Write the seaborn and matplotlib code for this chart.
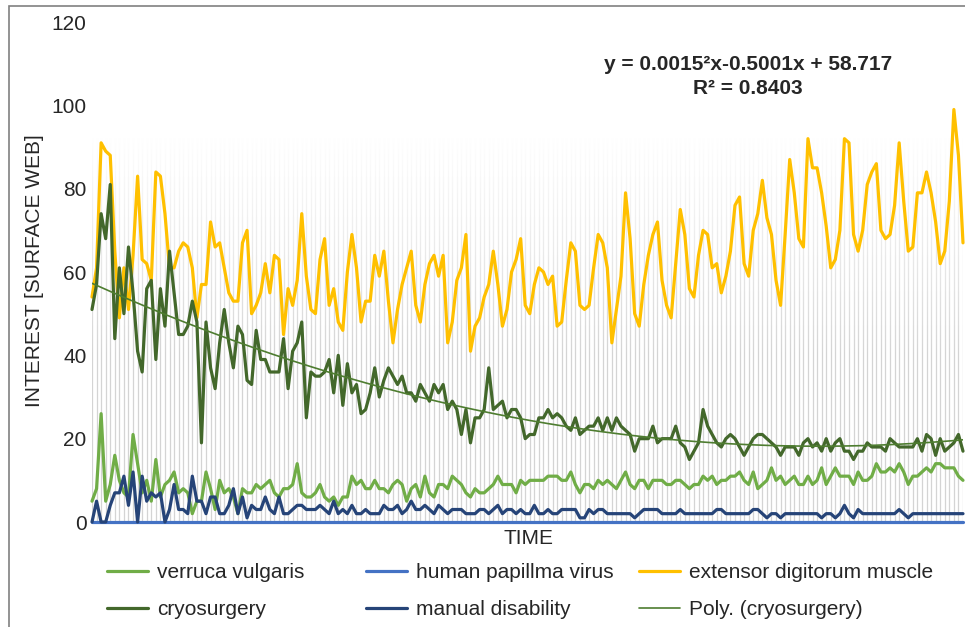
import numpy as np
import pandas as pd
import seaborn as sns
import matplotlib.pyplot as plt
from matplotlib.patches import Rectangle

# weekly search interest (192 points)
extensor = [
    54, 61, 91, 89, 88, 65, 49, 61, 51, 64, 83, 63, 62, 58, 84, 83, 74, 61, 61, 65,
    67, 66, 61, 49, 57, 57, 72, 66, 67, 61, 55, 53, 53, 67, 70, 50, 52, 55, 62, 55,
    64, 63, 45, 56, 52, 58, 74, 59, 51, 50, 63, 68, 52, 56, 48, 46, 60, 69, 61, 48,
    53, 53, 64, 59, 65, 53, 43, 51, 57, 61, 65, 52, 48, 57, 62, 64, 59, 64, 43, 48,
    58, 61, 69, 41, 47, 49, 54, 57, 65, 57, 47, 51, 60, 63, 68, 52, 50, 57, 61, 60,
    57, 59, 47, 48, 58, 67, 65, 52, 51, 52, 61, 69, 67, 61, 43, 51, 59, 79, 68, 50,
    47, 57, 64, 69, 72, 58, 52, 49, 62, 75, 69, 56, 54, 64, 70, 69, 61, 62, 55, 59,
    65, 76, 78, 62, 59, 70, 74, 82, 73, 69, 58, 52, 69, 87, 79, 68, 66, 92, 85, 85,
    79, 71, 61, 63, 70, 92, 91, 69, 65, 70, 81, 84, 86, 70, 68, 69, 76, 91, 77, 65,
    66, 79, 79, 84, 79, 72, 62, 65, 77, 99, 88, 67,
]
cryosurgery = [
    51, 57, 74, 68, 81, 44, 61, 50, 66, 55, 41, 36, 56, 58, 39, 56, 47, 65, 55, 45,
    45, 47, 53, 48, 19, 48, 37, 32, 43, 51, 43, 37, 47, 45, 34, 33, 46, 39, 39, 36,
    36, 36, 44, 32, 41, 43, 48, 25, 36, 35, 35, 36, 39, 31, 40, 28, 38, 31, 33, 26,
    27, 31, 37, 30, 34, 37, 35, 33, 35, 31, 31, 29, 33, 31, 29, 33, 31, 33, 27, 29,
    27, 21, 27, 19, 25, 25, 27, 37, 27, 28, 29, 25, 27, 27, 25, 20, 21, 21, 25, 25,
    27, 25, 26, 25, 23, 22, 25, 21, 22, 23, 23, 25, 22, 25, 22, 25, 23, 22, 21, 17,
    20, 20, 20, 23, 19, 20, 20, 20, 23, 19, 18, 15, 17, 19, 27, 23, 21, 19, 18, 20,
    21, 20, 18, 16, 18, 20, 21, 21, 20, 19, 18, 16, 18, 18, 18, 16, 19, 20, 18, 19,
    17, 20, 17, 19, 20, 17, 17, 15, 17, 17, 19, 18, 18, 18, 17, 20, 19, 18, 18, 18,
    18, 20, 17, 21, 20, 16, 20, 17, 18, 19, 21, 17,
]
verruca = [
    5, 8, 26, 5, 9, 16, 10, 7, 6, 21, 14, 7, 10, 5, 15, 6, 9, 10, 12, 7,
    8, 7, 2, 5, 5, 12, 8, 3, 10, 7, 8, 6, 2, 8, 7, 7, 9, 8, 9, 10,
    7, 6, 8, 8, 9, 14, 7, 6, 6, 7, 9, 6, 5, 6, 4, 6, 6, 11, 9, 10,
    8, 8, 10, 8, 8, 7, 9, 10, 9, 5, 8, 9, 6, 11, 7, 6, 9, 9, 8, 11,
    10, 9, 7, 6, 8, 7, 7, 8, 9, 11, 9, 9, 9, 7, 10, 9, 10, 10, 10, 10,
    11, 11, 11, 10, 10, 12, 9, 7, 9, 9, 8, 10, 9, 10, 9, 8, 10, 12, 9, 8,
    10, 10, 8, 10, 10, 10, 9, 9, 10, 10, 9, 8, 9, 9, 11, 10, 11, 9, 10, 10,
    11, 11, 12, 10, 9, 12, 8, 9, 10, 13, 10, 11, 9, 10, 11, 9, 9, 11, 9, 10,
    13, 9, 11, 13, 11, 11, 11, 9, 12, 10, 10, 11, 14, 12, 12, 13, 12, 14, 12, 9,
    11, 11, 12, 13, 12, 14, 14, 13, 13, 13, 11, 10,
]
manual = [
    0, 5, 0, 0, 4, 7, 7, 11, 4, 12, 0, 11, 5, 7, 6, 7, 0, 3, 9, 3,
    3, 2, 11, 5, 5, 2, 6, 6, 2, 2, 4, 8, 2, 6, 1, 4, 3, 3, 6, 3,
    2, 6, 2, 2, 3, 4, 4, 3, 3, 3, 4, 3, 2, 5, 2, 3, 2, 4, 2, 2,
    3, 2, 2, 2, 4, 3, 3, 4, 2, 3, 5, 3, 3, 4, 3, 2, 4, 3, 2, 3,
    3, 3, 2, 2, 2, 3, 3, 2, 3, 4, 2, 3, 3, 2, 3, 2, 2, 4, 2, 2,
    3, 2, 2, 3, 3, 3, 3, 1, 1, 3, 2, 3, 3, 2, 2, 2, 2, 2, 2, 1,
    2, 3, 3, 3, 3, 2, 2, 2, 2, 3, 2, 2, 2, 2, 2, 2, 2, 3, 3, 2,
    2, 2, 2, 2, 2, 3, 3, 2, 1, 2, 2, 1, 2, 2, 2, 2, 2, 2, 2, 2,
    1, 2, 2, 1, 2, 4, 2, 1, 3, 2, 2, 2, 2, 2, 2, 2, 2, 3, 2, 1,
    2, 2, 2, 2, 2, 2, 2, 2, 2, 2, 2, 2,
]
hpv = [0] * len(extensor)

y_ticks = [0, 20, 40, 60, 80, 100, 120]
eq_text = "y = 0.0015²x-0.5001x + 58.717"
r2_text = "R² = 0.8403"

weeks = np.arange(len(extensor))
df = pd.DataFrame({
    "t": weeks,
    "verruca vulgaris": verruca,
    "human papillma virus": hpv,
    "extensor digitorum muscle": extensor,
    "cryosurgery": cryosurgery,
    "manual disability": manual,
})

# 2nd order poly trend on cryosurgery (Excel style x = 1..n)
coef = np.polyfit(weeks + 1, df["cryosurgery"], 2)
df["Poly. (cryosurgery)"] = np.polyval(coef, weeks + 1)

colors = {
    "verruca vulgaris": "#70AD47",
    "human papillma virus": "#4472C4",
    "extensor digitorum muscle": "#FFC000",
    "cryosurgery": "#43682B",
    "manual disability": "#264478",
    "Poly. (cryosurgery)": "#4E7D30",
}

sns.set_theme(style="white")
plt.rcParams["font.family"] = ["Liberation Sans", "DejaVu Sans"]
plt.rcParams["text.color"] = "#262626"

fig = plt.figure(figsize=(9.65, 6.27), dpi=100)
ax = fig.add_axes([92 / 965, 1 - 522 / 627, 871 / 965, 500 / 627])

# light vertical stripes behind the data, fading out towards the top
ax.vlines(weeks, 0, 120, color="#d4d4d4", lw=0.9, zorder=0.5)
fade = np.linspace(0, 120, 240)
alpha = np.clip((fade - 40) / 52, 0, 1) ** 0.9
grad = np.ones((len(fade), 1, 4))
grad[:, 0, 3] = alpha
ax.imshow(grad, extent=[-1, len(weeks), 0, 120], origin="lower",
          aspect="auto", zorder=0.6, interpolation="bilinear")

for name in ["verruca vulgaris", "human papillma virus", "extensor digitorum muscle",
             "cryosurgery", "manual disability"]:
    sns.lineplot(data=df, x="t", y=name, color=colors[name], lw=2.3,
                 label=name, ax=ax, zorder=3, clip_on=False)
sns.lineplot(data=df, x="t", y="Poly. (cryosurgery)", color=colors["Poly. (cryosurgery)"],
             lw=1.2, label="Poly. (cryosurgery)", ax=ax, zorder=4)

ax.set_xlim(0, len(weeks) - 1)
ax.set_ylim(0, 120)
ax.set_yticks(y_ticks)
ax.set_xticks([])
ax.tick_params(axis="y", length=0, pad=4, labelsize=15, labelcolor="#262626")
ax.set_xlabel("")
ax.set_ylabel("")
for s in ax.spines.values():
    s.set_visible(False)

fig.text(35 / 965, 1 - 271 / 627, "INTEREST [SURFACE WEB]", rotation=90,
         ha="center", va="center", fontsize=15)
fig.text(528 / 965, 1 - 539 / 627, "TIME", ha="center", va="center", fontsize=15)
fig.text(748 / 965, 1 - 64 / 627, eq_text, ha="center", va="center",
         fontsize=15, weight="bold")
fig.text(748 / 965, 1 - 88 / 627, r2_text, ha="center", va="center",
         fontsize=15, weight="bold")

# legend: three columns placed like the original
handles, labels = ax.get_legend_handles_labels()
lookup = dict(zip(labels, handles))
ax.legend().remove()
columns = [
    (["verruca vulgaris", "cryosurgery"], 107),
    (["human papillma virus", "manual disability"], 366),
    (["extensor digitorum muscle", "Poly. (cryosurgery)"], 639),
]
for names, x0 in columns:
    leg = fig.legend([lookup[n] for n in names], names, loc="upper left",
                     bbox_to_anchor=(x0 / 965, 1 - 563 / 627),
                     bbox_transform=fig.transFigure, frameon=False,
                     fontsize=15, borderpad=0, borderaxespad=0,
                     handlelength=1.95, handletextpad=0.45, labelspacing=0.88)
    for t in leg.get_texts():
        t.set_color("#262626")

# outer chart border (cut off at right and bottom in the original)
fig.add_artist(Rectangle((9 / 965, -0.1), 1.0, 1.1 - 6 / 627,
                         transform=fig.transFigure, fill=False,
                         edgecolor="#808080", lw=1.2))

fig.savefig("out.png", dpi=100)
